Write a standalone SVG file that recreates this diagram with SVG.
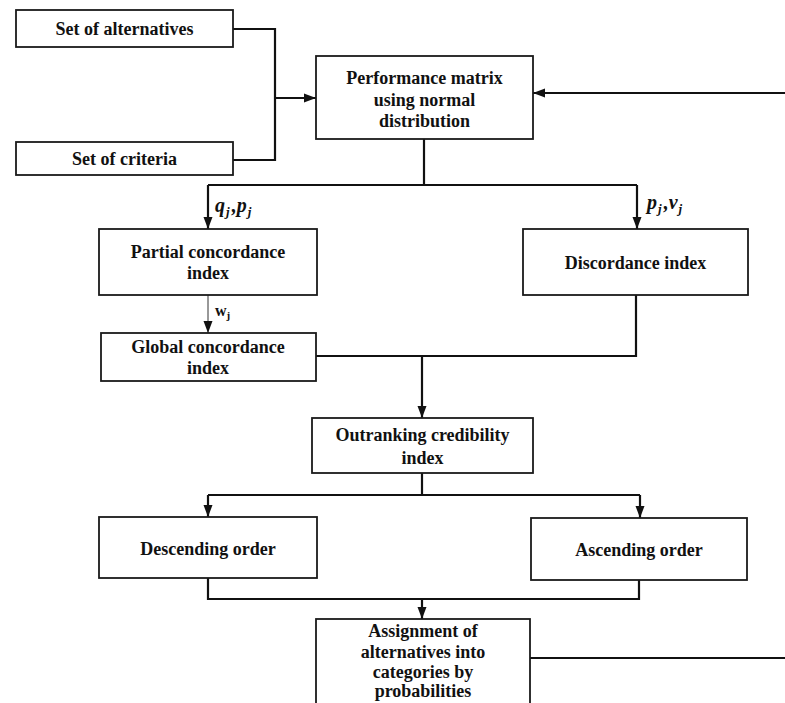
<svg xmlns="http://www.w3.org/2000/svg" width="785" height="703" viewBox="0 0 785 703">
<style>
.box{fill:#fff;stroke:#1a1a1a;stroke-width:1.8}
.t{font-family:"Liberation Serif","Times New Roman",serif;font-weight:bold;font-size:18px;fill:#111;text-anchor:middle}
.c{fill:none;stroke:#111;stroke-width:2.2}
.thin{fill:none;stroke:#333;stroke-width:1}
.m{font-family:"Liberation Serif","Times New Roman",serif;font-weight:bold;font-style:italic;font-size:20px;fill:#111}
.w{font-family:"Liberation Serif","Times New Roman",serif;font-weight:bold;font-size:16px;fill:#111}
.s{font-size:13px}
</style>
<defs>
<marker id="ah" markerUnits="userSpaceOnUse" markerWidth="12" markerHeight="12" viewBox="0 0 12 12" refX="12" refY="6" orient="auto">
<path d="M0,1.5 L12,6 L0,10.5 Z" fill="#111"/>
</marker>
</defs>
<rect width="785" height="703" fill="#fff"/>
<g id="connectors">
<path class="c" d="M233,29 H275 V160 H233"/>
<path class="c" d="M275,98 H316" marker-end="url(#ah)"/>
<path class="c" d="M785,93 H533" marker-end="url(#ah)"/>
<path class="c" d="M530,658 H785"/>
<path class="c" d="M424,139 V185"/>
<path class="c" d="M208,185 H637"/>
<path class="c" d="M208,185 V229" marker-end="url(#ah)"/>
<path class="c" d="M637,185 V229" marker-end="url(#ah)"/>
<path class="thin" d="M208,295 V333" marker-end="url(#ah)"/>
<path class="c" d="M636,295 V356 H316"/>
<path class="c" d="M422,356 V418" marker-end="url(#ah)"/>
<path class="c" d="M422,473 V495"/>
<path class="c" d="M208,495 H640"/>
<path class="c" d="M208,495 V517" marker-end="url(#ah)"/>
<path class="c" d="M640,495 V518" marker-end="url(#ah)"/>
<path class="c" d="M208,578 V599 H639 V580"/>
<path class="c" d="M422,599 V619" marker-end="url(#ah)"/>
<text class="m" x="215" y="212">q<tspan class="s" dx="1" dy="4">j</tspan><tspan dx="2" dy="-4">,p</tspan><tspan class="s" dx="1" dy="4">j</tspan></text>
<text class="m" x="647" y="209">p<tspan class="s" dx="1" dy="4">j</tspan><tspan dx="2" dy="-4">,v</tspan><tspan class="s" dx="1" dy="4">j</tspan></text>
<text class="w" x="215" y="316">w<tspan font-size="11" dy="3">j</tspan></text>
</g>
<g id="alt"><rect class="box" x="16" y="10" width="217" height="37"/><text class="t" x="124.5" y="35">Set of alternatives</text></g>
<g id="crit"><rect class="box" x="16" y="142" width="217" height="33"/><text class="t" x="124.5" y="165">Set of criteria</text></g>
<g id="perf"><rect class="box" x="316" y="56" width="217" height="83"/><text class="t" x="424.5" y="84">Performance matrix</text><text class="t" x="424.5" y="106">using normal</text><text class="t" x="424.5" y="127">distribution</text></g>
<g id="partial"><rect class="box" x="99" y="229" width="218" height="66"/><text class="t" x="208" y="258">Partial concordance</text><text class="t" x="208" y="279">index</text></g>
<g id="disc"><rect class="box" x="523" y="229" width="225" height="66"/><text class="t" x="635.5" y="269">Discordance index</text></g>
<g id="global"><rect class="box" x="101" y="333" width="215" height="48"/><text class="t" x="208" y="353">Global concordance</text><text class="t" x="208" y="374">index</text></g>
<g id="outrank"><rect class="box" x="312" y="418" width="221" height="55"/><text class="t" x="422.5" y="441">Outranking credibility</text><text class="t" x="422.5" y="464">index</text></g>
<g id="desc"><rect class="box" x="99" y="517" width="218" height="61"/><text class="t" x="208" y="555">Descending order</text></g>
<g id="asc"><rect class="box" x="531" y="518" width="216" height="62"/><text class="t" x="639" y="556">Ascending order</text></g>
<g id="assign"><rect class="box" x="316" y="619" width="214" height="100"/><text class="t" x="423" y="637">Assignment of</text><text class="t" x="423" y="657.5">alternatives into</text><text class="t" x="423" y="678">categories by</text><text class="t" x="423" y="697">probabilities</text></g>
</svg>
